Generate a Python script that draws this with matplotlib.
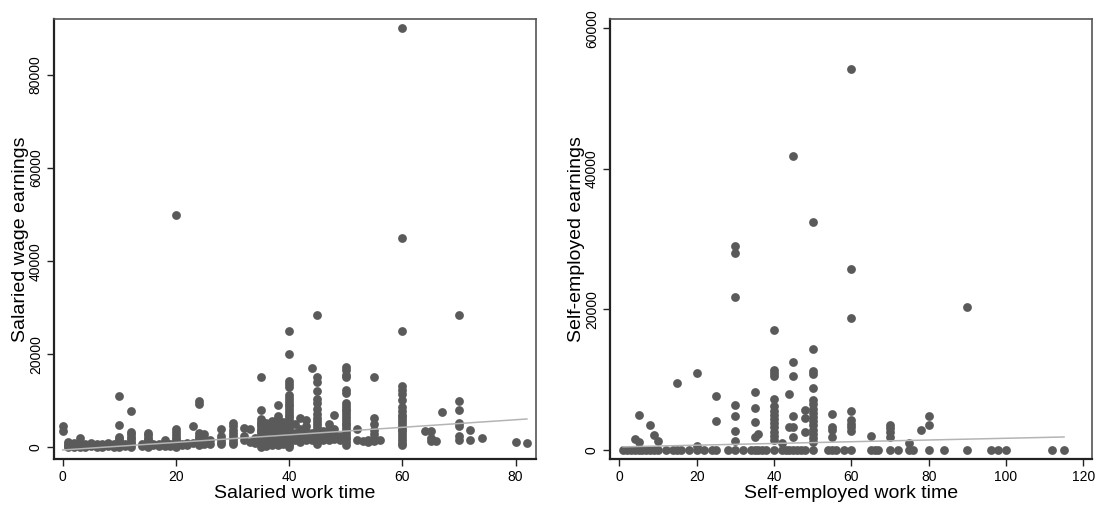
import matplotlib
matplotlib.use("Agg")
import matplotlib.pyplot as plt

plt.rcParams['font.family'] = ['Liberation Sans', 'DejaVu Sans']

# Salaried: weekly hours and the earnings observed at each hour value
sal_hours = [0, 1, 2, 3, 4, 5, 6, 7, 8, 9, 10, 11, 12, 14, 15, 16, 17, 18, 19, 20,
             21, 22, 23, 24, 25, 26, 28, 30, 32, 33, 34, 35, 36, 37, 38, 39, 40,
             41, 42, 43, 44, 45, 46, 47, 48, 49, 50, 52, 53, 54, 55, 56, 60, 64,
             65, 66, 67, 70, 72, 74, 80, 82]
sal_earn = [
    [4500, 3600],
    [1200, 700, 300, 0],
    [900, 500, 200, 0],
    [2100, 800, 300, 100],
    [800, 400, 100],
    [900, 500, 200],
    [800, 400, 100],
    [600, 300, 0],
    [1000, 700, 300],
    [800, 400, 100],
    [11000, 4800, 2200, 1800, 1300, 800, 400, 0],
    [600, 200],
    [7700, 3300, 2800, 2300, 1700, 1100, 600, 100],
    [700, 300],
    [3000, 2600, 2100, 1600, 1100, 700, 300, 0],
    [800, 400],
    [600, 200],
    [1500, 1000, 500, 200],
    [700, 300],
    [50000, 4000, 3300, 2600, 2000, 1500, 1000, 500, 100],
    [800, 400],
    [900, 500],
    [4500, 1000],
    [10000, 9300, 3000, 2500, 2000, 1500, 1000, 500],
    [2800, 2000, 1300, 700],
    [1500, 800],
    [4000, 2500, 1800, 1200, 600],
    [5300, 4600, 3800, 3000, 2400, 1800, 1200, 600],
    [4200, 2500, 1500],
    [4000, 1200],
    [2000, 1000],
    [15000, 8000, 6000, 5500, 5000, 4500, 4000, 3500, 3000, 2500, 2000, 1500, 1000, 500, 0],
    [5200, 4500, 3800, 3000, 2300, 1600, 900, 300],
    [5600, 4800, 4000, 3300, 2600, 1900, 1200, 500],
    [9000, 6800, 6000, 5200, 4400, 3600, 2800, 2000, 1200, 400],
    [5500, 4500, 3500, 2500, 1500, 700],
    [25000, 20000, 14200, 13500, 13000, 11200, 10600, 10000, 9400, 8800, 8200, 7600,
     7000, 6400, 5800, 5200, 4600, 4000, 3400, 2800, 2200, 1600, 1000, 400, 0],
    [5000, 3000, 1500],
    [6200, 4000, 3000, 2000, 1200],
    [5900, 4500, 3500, 2500, 1500],
    [17000, 3000, 1600],
    [28400, 15000, 14100, 12200, 10300, 9500, 8200, 7100, 6200, 5600, 5000, 4400,
     3800, 3200, 2600, 2000, 1400, 800],
    [3500, 2500, 1500],
    [5000, 4000, 2500, 1500],
    [7000, 4000, 3000, 1800],
    [2500, 1500],
    [17300, 16500, 15600, 15000, 12300, 11700, 9500, 8900, 8300, 7700, 7100, 6500,
     5900, 5300, 4700, 4100, 3500, 2900, 2300, 1700, 1100, 500],
    [4000, 1500],
    [1300],
    [1500, 1200],
    [15000, 6200, 5000, 3700, 2800, 2000, 1400],
    [1500],
    [90000, 45000, 25000, 13200, 12400, 11400, 10200, 8600, 7700, 7000, 6400, 5800,
     5200, 4600, 4000, 3400, 2800, 2200, 1600, 1000, 500],
    [3500],
    [3500, 2000, 1300],
    [1300],
    [7500],
    [28500, 10000, 8000, 5300, 4600, 2400, 1500],
    [3700, 1500],
    [1900],
    [1100],
    [900],
]
sal_fit_x = [0, 82]
sal_fit_y = [-580, 6080]

# Self-employed: hours with zero earnings, plus hours with positive earnings
self_zero_hours = [1, 2, 3, 4, 5, 6, 7, 8, 9, 10, 12, 14, 15, 16, 18, 20, 22, 24, 25,
                   28, 30, 32, 34, 35, 36, 37, 38, 40, 42, 43, 44, 45, 46, 47, 48, 50,
                   54, 55, 56, 58, 60, 65, 66, 67, 70, 72, 75, 76, 80, 84, 90, 96, 98,
                   100, 112, 115]
self_hours = [4, 5, 8, 9, 10, 15, 20, 25, 30, 35, 36, 40, 42, 44, 45, 48, 50, 55, 60,
              65, 70, 75, 78, 80, 90]
self_earn = [
    [1600],
    [5000, 1100],
    [3500],
    [2100],
    [1300],
    [9600],
    [11000, 600],
    [7700, 4100],
    [29000, 28000, 21700, 6400, 4800, 2700, 1300],
    [8300, 6000, 4000, 1800],
    [2300],
    [17000, 11400, 11000, 10500, 7200, 6200, 5600, 5000, 4400, 3800, 3200, 2600, 2000, 1400],
    [1000],
    [8000, 3300],
    [41800, 12500, 10500, 4800, 3300, 1900],
    [5700, 4500, 2500],
    [32400, 14400, 11300, 10800, 8800, 7100, 6500, 5900, 5300, 4700, 4100, 3500, 2900,
     2300, 1700, 1100],
    [5100, 3300, 2800, 1900],
    [54200, 25700, 18800, 5500, 4200, 3700, 3200, 2700],
    [2000],
    [3600, 3100, 2600, 1900],
    [1000],
    [2800],
    [4900, 3600],
    [20400],
]
self_fit_x = [1, 115]
self_fit_y = [450, 1850]

dot_color = '#5a5a5a'
fit_color = '#b4b4b4'

fig = plt.figure(figsize=(10.99, 5.07), dpi=100)
ax1 = fig.add_axes([0.0491, 0.0953, 0.4386, 0.8667])
ax2 = fig.add_axes([0.5550, 0.0953, 0.4389, 0.8667])


def flatten(hours, earn):
    xs, ys = [], []
    for h, vals in zip(hours, earn):
        xs += [h] * len(vals)
        ys += vals
    return xs, ys


sx, sy = flatten(sal_hours, sal_earn)
ax1.scatter(sx, sy, s=40, color=dot_color, linewidths=0, zorder=2)
ax1.plot(sal_fit_x, sal_fit_y, color=fit_color, lw=1.1, zorder=3)

ex, ey = flatten(self_hours, self_earn)
ex += self_zero_hours
ey += [0] * len(self_zero_hours)
ax2.scatter(ex, ey, s=40, color=dot_color, linewidths=0, zorder=2)
ax2.plot(self_fit_x, self_fit_y, color=fit_color, lw=1.1, zorder=3)

ax1.set_xlim(-1.54, 83.6)
ax1.set_ylim(-2450, 91970)
ax1.set_xticks([0, 20, 40, 60, 80])
ax1.set_yticks([0, 20000, 40000, 60000, 80000])
ax1.set_xlabel('Salaried work time', fontsize=14, labelpad=1)
ax1.set_ylabel('Salaried wage earnings', fontsize=14, labelpad=0)

ax2.set_xlim(-2.4, 122.3)
ax2.set_ylim(-1238, 61280)
ax2.set_xticks([0, 20, 40, 60, 80, 100, 120])
ax2.set_yticks([0, 20000, 40000, 60000])
ax2.set_xlabel('Self-employed work time', fontsize=14, labelpad=1)
ax2.set_ylabel('Self-employed earnings', fontsize=14, labelpad=0)

for ax in (ax1, ax2):
    ax.tick_params(axis='both', labelsize=10, length=5, width=1, color='#222222', pad=3)
    for lbl in ax.get_yticklabels():
        lbl.set_rotation(90)
        lbl.set_va('center')
    ax.spines['left'].set_linewidth(1.6)
    ax.spines['bottom'].set_linewidth(1.6)
    ax.spines['left'].set_color('#222222')
    ax.spines['bottom'].set_color('#222222')
    ax.spines['top'].set_linewidth(1.2)
    ax.spines['right'].set_linewidth(1.2)
    ax.spines['top'].set_color('#555555')
    ax.spines['right'].set_color('#555555')

fig.savefig('out.png', dpi=100)
